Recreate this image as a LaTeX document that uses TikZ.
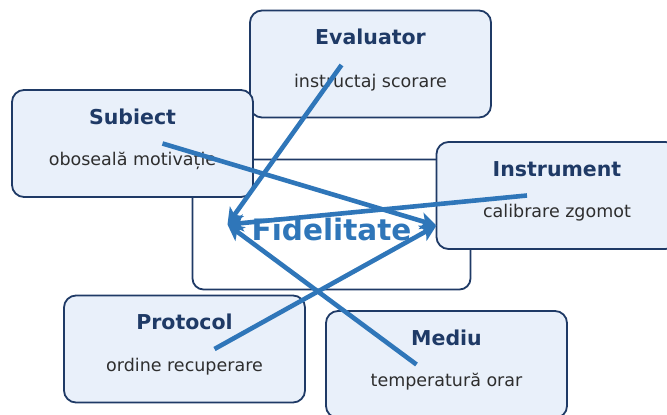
\documentclass[tikz,border=0pt]{standalone}
\usepackage{fontspec}
\setmainfont{DejaVu Sans}
\usetikzlibrary{arrows.meta,positioning}

\definecolor{navy}{HTML}{1F3A66}
\definecolor{boxfill}{HTML}{E9F0FA}
\definecolor{flow}{HTML}{2F76B9}
\definecolor{subtext}{HTML}{2E2E2E}

\tikzset{
  factor/.style={draw=navy, line width=1.8pt, fill=boxfill, rounded corners=12pt,
    minimum width=241pt, minimum height=107pt, inner sep=0pt},
  core/.style={draw=navy, line width=1.8pt, fill=white, rounded corners=11pt,
    minimum width=278pt, minimum height=130pt, inner sep=0pt},
  ftitle/.style={anchor=base, text=navy, font=\fontsize{20.5}{24}\selectfont\bfseries, inner sep=0pt},
  fsub/.style={anchor=base, text=subtext, font=\fontsize{17.5}{21}\selectfont, inner sep=0pt},
  coretext/.style={anchor=base, text=flow, font=\fontsize{29.5}{34}\selectfont\bfseries, inner sep=0pt},
  link/.style={draw=flow, line width=4.6pt,
    -{Stealth[length=16pt,width=17pt,inset=4pt]}}
}

\begin{document}
\begin{tikzpicture}[x=1pt,y=-1pt]
  \useasboundingbox (0,0) rectangle (667,415);

  % central construct
  \node[core] (fid) at (331.5,224.5) {};

  % influencing factors
  \node[factor] (ev) at (370.5,64) {};
  \node[ftitle] (evT) at ([yshift=19pt]ev.center) {Evaluator};
  \node[fsub]   (evS) at ([yshift=-23pt]ev.center) {instructaj scorare};

  \node[factor] (su) at (132.5,143.5) {};
  \node[ftitle] (suT) at ([yshift=19.5pt]su.center) {Subiect};
  \node[fsub]   (suS) at ([yshift=-22pt]su.center) {oboseală motivație};

  \node[factor] (in) at (557,195.5) {};
  \node[ftitle] (inT) at ([yshift=19.5pt]in.center) {Instrument};
  \node[fsub]   (inS) at ([yshift=-22pt]in.center) {calibrare zgomot};

  \node[factor] (pr) at (184.5,349) {};
  \node[ftitle] (prT) at ([yshift=19.5pt]pr.center) {Protocol};
  \node[fsub]   (prS) at ([yshift=-22pt]pr.center) {ordine recuperare};

  \node[factor] (me) at (446.5,364.5) {};
  \node[ftitle] (meT) at ([yshift=19.5pt]me.center) {Mediu};
  \node[fsub]   (meS) at ([yshift=-22pt]me.center) {temperatură orar};

  % start and end points of the influence arrows
  \coordinate (fidL) at ([xshift=-104pt]fid.center);
  \coordinate (fidR) at ([xshift=105pt,yshift=-1pt]fid.center);
  \coordinate (evA) at ([xshift=-29pt,yshift=-1pt]ev.center);
  \coordinate (suA) at ([xshift=30pt]su.center);
  \coordinate (inA) at ([xshift=-30pt]in.center);
  \coordinate (prA) at ([xshift=30pt]pr.center);
  \coordinate (meA) at ([xshift=-30pt]me.center);

  \node[coretext] (fidT) at ([yshift=-15.5pt]fid.center) {Fidelitate};

  \draw[link] (evA) -- (fidL);
  \draw[link] (suA) -- (fidR);
  \draw[link] (inA) -- (fidL);
  \draw[link] (prA) -- (fidR);
  \draw[link] (meA) -- (fidL);
\end{tikzpicture}
\end{document}
